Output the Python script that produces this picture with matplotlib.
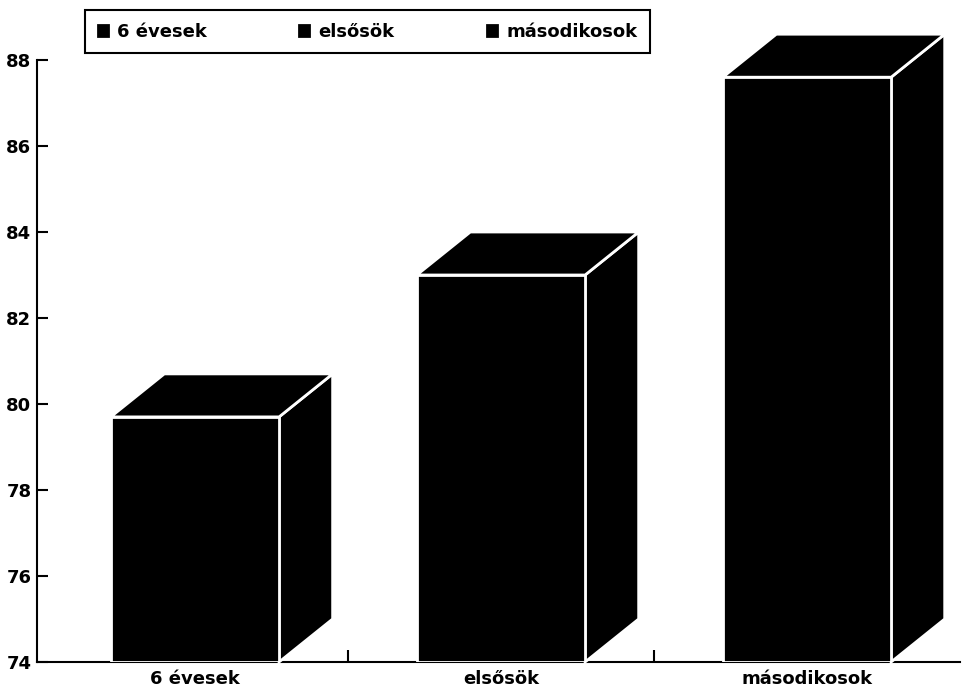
import numpy as np
import matplotlib
matplotlib.use("Agg")
import matplotlib.pyplot as plt
from matplotlib.patches import Polygon

# data
categories = ["6 évesek", "elsősök", "másodikosok"]
values = [79.7, 83.0, 87.6]
y_ticks = [74, 76, 78, 80, 82, 84, 86, 88]
base = 74

fig = plt.figure(figsize=(9.63, 6.89), dpi=100)
ax = fig.add_axes([37/963, 27/689, (960-37)/963, (662-60)/689])

x = np.arange(len(categories))
w = 0.55
# depth of the fake 3d box (data units)
dx, dy = 0.175, 1.0

for xi, v, lab in zip(x, values, categories):
    # side face
    side = Polygon([(xi + w/2, base), (xi + w/2 + dx, base + dy),
                    (xi + w/2 + dx, v + dy), (xi + w/2, v)],
                   closed=True, facecolor="black", edgecolor="white",
                   linewidth=2, clip_on=False, zorder=2)
    ax.add_patch(side)
    # top face
    top = Polygon([(xi - w/2, v), (xi + w/2, v),
                   (xi + w/2 + dx, v + dy), (xi - w/2 + dx, v + dy)],
                  closed=True, facecolor="black", edgecolor="white",
                  linewidth=2, clip_on=False, zorder=2)
    ax.add_patch(top)
    # front face
    ax.bar(xi, v - base, bottom=base, width=w, color="black",
           edgecolor="white", linewidth=2, zorder=3, label=lab)

ax.set_xlim(-0.516, 2.5)
ax.set_ylim(74, 88)
ax.set_yticks(y_ticks)
ax.set_yticklabels([str(t) for t in y_ticks], fontsize=13, fontweight="bold")
ax.tick_params(axis="y", direction="in", length=8, width=1.5, pad=4)

# ticks between the groups, labels under the bars
ax.set_xticks(x[:-1] + 0.5)
ax.set_xticklabels([])
ax.set_xticks(x, minor=True)
ax.set_xticklabels(categories, minor=True, fontsize=13, fontweight="bold")
ax.tick_params(axis="x", which="major", direction="in", length=9, width=1.5)
ax.tick_params(axis="x", which="minor", length=0, pad=6)

for s in ["top", "right"]:
    ax.spines[s].set_visible(False)
ax.spines["left"].set_linewidth(1.5)
ax.spines["bottom"].set_linewidth(1.5)
ax.spines["bottom"].set_zorder(1)

leg = fig.legend(loc="upper left", bbox_to_anchor=(85/963, 1 - 10/689, (650-85)/963, 0),
                 mode="expand", ncol=3, frameon=True, fancybox=False,
                 edgecolor="black", framealpha=1, handlelength=0.55, handleheight=0.55,
                 handletextpad=0.5, borderaxespad=0, borderpad=0.7,
                 prop={"size": 13, "weight": "bold"})
leg.get_frame().set_linewidth(1.5)
for h in leg.legend_handles:
    h.set_edgecolor("black")

fig.savefig("out.png", dpi=100)
